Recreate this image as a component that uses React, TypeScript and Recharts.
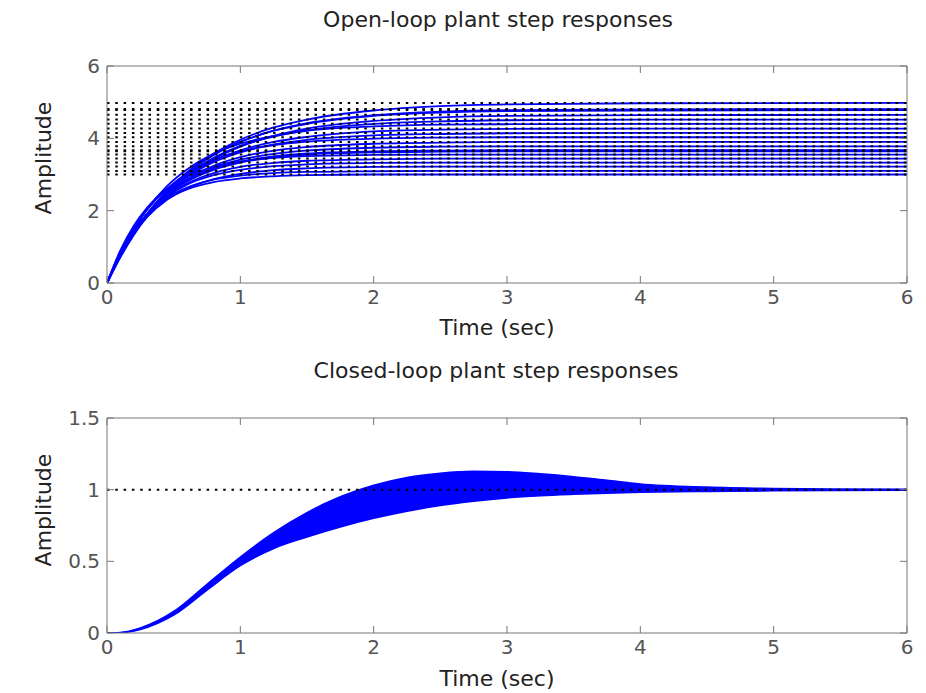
import React from 'react';
import { ComposedChart, Line, Area, XAxis, YAxis, ReferenceLine } from 'recharts';

// open-loop step responses at these times
const openTime = [0, 0.1, 0.2, 0.3, 0.45, 0.6, 0.8, 1.0, 1.25, 1.5, 2.0, 2.5, 3.0, 4.0, 6.0];

const open300 = [0, 0.85, 1.46, 1.9, 2.33, 2.59, 2.79, 2.89, 2.95, 2.98, 3.0, 3.0, 3.0, 3.0, 3.0];
const open310 = [0, 0.84, 1.46, 1.9, 2.36, 2.64, 2.86, 2.97, 3.04, 3.07, 3.09, 3.1, 3.1, 3.1, 3.1];
const open322 = [0, 0.78, 1.37, 1.82, 2.3, 2.61, 2.87, 3.02, 3.12, 3.17, 3.21, 3.22, 3.22, 3.22, 3.22];
const open333 = [0, 0.82, 1.43, 1.9, 2.39, 2.72, 2.98, 3.13, 3.23, 3.28, 3.32, 3.33, 3.33, 3.33, 3.33];
const open344 = [0, 0.81, 1.43, 1.9, 2.41, 2.75, 3.04, 3.21, 3.32, 3.38, 3.42, 3.44, 3.44, 3.44, 3.44];
const open355 = [0, 0.9, 1.58, 2.08, 2.6, 2.94, 3.21, 3.36, 3.46, 3.51, 3.54, 3.55, 3.55, 3.55, 3.55];
const open364 = [0, 0.8, 1.42, 1.9, 2.44, 2.81, 3.13, 3.33, 3.47, 3.55, 3.61, 3.63, 3.64, 3.64, 3.64];
const open367 = [0, 0.79, 1.42, 1.9, 2.45, 2.82, 3.15, 3.35, 3.5, 3.58, 3.64, 3.66, 3.67, 3.67, 3.67];
const open378 = [0, 0.78, 1.41, 1.9, 2.45, 2.84, 3.19, 3.41, 3.57, 3.66, 3.74, 3.77, 3.78, 3.78, 3.78];
const open390 = [0, 0.78, 1.4, 1.9, 2.47, 2.87, 3.24, 3.48, 3.66, 3.76, 3.85, 3.88, 3.9, 3.9, 3.9];
const open403 = [0, 0.84, 1.5, 2.02, 2.61, 3.03, 3.4, 3.64, 3.81, 3.91, 3.99, 4.02, 4.03, 4.03, 4.03];
const open415 = [0, 0.77, 1.39, 1.9, 2.49, 2.93, 3.34, 3.61, 3.83, 3.96, 4.08, 4.12, 4.14, 4.15, 4.15];
const open427 = [0, 0.76, 1.39, 1.9, 2.5, 2.95, 3.38, 3.67, 3.9, 4.04, 4.19, 4.24, 4.26, 4.27, 4.27];
const open440 = [0, 0.83, 1.5, 2.04, 2.68, 3.14, 3.57, 3.85, 4.07, 4.21, 4.33, 4.38, 4.39, 4.4, 4.4];
const open452 = [0, 0.75, 1.38, 1.9, 2.53, 3.0, 3.46, 3.79, 4.05, 4.22, 4.4, 4.47, 4.5, 4.52, 4.52];
const open465 = [0, 0.71, 1.32, 1.83, 2.45, 2.94, 3.42, 3.77, 4.07, 4.27, 4.48, 4.58, 4.62, 4.64, 4.65];
const open478 = [0, 0.75, 1.37, 1.91, 2.55, 3.05, 3.55, 3.9, 4.21, 4.4, 4.62, 4.71, 4.75, 4.77, 4.78];
const open481 = [0, 0.74, 1.36, 1.89, 2.54, 3.04, 3.54, 3.9, 4.21, 4.42, 4.64, 4.74, 4.78, 4.8, 4.81];
const open498 = [0, 0.73, 1.35, 1.89, 2.54, 3.06, 3.58, 3.96, 4.3, 4.52, 4.77, 4.89, 4.94, 4.97, 4.98];

const openSeries = [
  open300, open310, open322, open333, open344, open355, open364, open367, open378, open390,
  open403, open415, open427, open440, open452, open465, open478, open481, open498,
];

// dotted steady-state levels
const openSteady = [3.0, 3.1, 3.22, 3.33, 3.44, 3.55, 3.64, 3.67, 3.78, 3.9, 4.03, 4.15, 4.27, 4.4, 4.52, 4.65, 4.78, 4.81, 4.98];

// closed-loop family: lower and upper edge of the band
const closedTime = [0, 0.1, 0.25, 0.5, 0.75, 1.0, 1.25, 1.5, 1.75, 2.0, 2.25, 2.5, 2.75, 3.0, 3.25, 3.5, 3.75, 4.0, 4.5, 5.0, 5.5, 6.0];
const closedUpper = [0, 0.003, 0.035, 0.15, 0.34, 0.53, 0.7, 0.84, 0.95, 1.03, 1.085, 1.115, 1.128, 1.125, 1.11, 1.09, 1.065, 1.04, 1.018, 1.008, 1.004, 1.002];
const closedLower = [0, 0.002, 0.025, 0.125, 0.3, 0.47, 0.59, 0.67, 0.74, 0.8, 0.85, 0.89, 0.92, 0.943, 0.958, 0.968, 0.976, 0.982, 0.988, 0.992, 0.995, 0.997];
const closedSteady = [1];

const timeTicks = [0, 1, 2, 3, 4, 5, 6];
const openTicks = [0, 2, 4, 6];
const closedTicks = [0, 0.5, 1, 1.5];

const openData = openTime.map((t, i) => {
  const row: Record<string, number> = { t };
  openSeries.forEach((s, k) => {
    row['s' + k] = s[i];
  });
  return row;
});

const closedData = closedTime.map((t, i) => ({
  t,
  band: [closedLower[i], closedUpper[i]],
  lower: closedLower[i],
  upper: closedUpper[i],
}));

const FRAME = '#777';
const BLUE = '#0000ff';
const FONT = '"DejaVu Sans", "Liberation Sans", Arial, sans-serif';
const tickStyle = { fontFamily: FONT, fontSize: 20, fill: '#555' };
const dots = '2.5 5.8';

const textBase: React.CSSProperties = {
  position: 'absolute',
  fontFamily: FONT,
  fontSize: 22,
  lineHeight: '22px',
  color: '#222',
  whiteSpace: 'nowrap',
};

const centered = (x: number, top: number): React.CSSProperties => ({
  ...textBase,
  left: x,
  top,
  transform: 'translateX(-50%)',
});

const rotated = (x: number, y: number): React.CSSProperties => ({
  ...textBase,
  left: x,
  top: y,
  transform: 'translate(-50%, -50%) rotate(-90deg)',
});

export default function App() {
  return (
    <div style={{ position: 'absolute', left: 0, top: 0, width: 926, height: 693, background: '#fff', overflow: 'hidden' }}>
      <div style={{ position: 'absolute', left: 0, top: 0 }}>
        <ComposedChart width={926} height={345} data={openData} margin={{ top: 56, right: 9, bottom: 32, left: 47 }}>
          <XAxis dataKey="t" type="number" domain={[0, 6]} ticks={timeTicks} height={30} tickSize={-7} tickMargin={14}
            stroke={FRAME} tick={tickStyle} allowDataOverflow />
          <XAxis xAxisId="top" orientation="top" dataKey="t" type="number" domain={[0, 6]} ticks={timeTicks} height={10}
            tickSize={-7} tickFormatter={() => ''} stroke={FRAME} allowDataOverflow />
          <YAxis type="number" domain={[0, 6]} ticks={openTicks} width={60} tickSize={-7} tickMargin={14}
            stroke={FRAME} tick={tickStyle} allowDataOverflow />
          <YAxis yAxisId="right" orientation="right" type="number" domain={[0, 6]} ticks={openTicks} width={10}
            tickSize={-7} tickFormatter={() => ''} stroke={FRAME} allowDataOverflow />
          {openSeries.map((_, k) => (
            <Line key={k} type="monotone" dataKey={'s' + k} stroke={BLUE} strokeWidth={1.8} dot={false}
              activeDot={false} isAnimationActive={false} />
          ))}
          {openSteady.map((v) => (
            <ReferenceLine key={v} y={v} stroke="#000" strokeWidth={2} strokeDasharray={dots} />
          ))}
        </ComposedChart>
      </div>

      <div style={{ position: 'absolute', left: 0, top: 350 }}>
        <ComposedChart width={926} height={343} data={closedData} margin={{ top: 58, right: 9, bottom: 30, left: 47 }}>
          <XAxis dataKey="t" type="number" domain={[0, 6]} ticks={timeTicks} height={30} tickSize={-7} tickMargin={14}
            stroke={FRAME} tick={tickStyle} allowDataOverflow />
          <XAxis xAxisId="top" orientation="top" dataKey="t" type="number" domain={[0, 6]} ticks={timeTicks} height={10}
            tickSize={-7} tickFormatter={() => ''} stroke={FRAME} allowDataOverflow />
          <YAxis type="number" domain={[0, 1.5]} ticks={closedTicks} width={60} tickSize={-7} tickMargin={14}
            stroke={FRAME} tick={tickStyle} allowDataOverflow />
          <YAxis yAxisId="right" orientation="right" type="number" domain={[0, 1.5]} ticks={closedTicks} width={10}
            tickSize={-7} tickFormatter={() => ''} stroke={FRAME} allowDataOverflow />
          <Area type="monotone" dataKey="band" stroke="none" fill={BLUE} fillOpacity={1} isAnimationActive={false} activeDot={false} />
          <Line type="monotone" dataKey="upper" stroke={BLUE} strokeWidth={1.6} dot={false} activeDot={false} isAnimationActive={false} />
          <Line type="monotone" dataKey="lower" stroke={BLUE} strokeWidth={1.6} dot={false} activeDot={false} isAnimationActive={false} />
          {closedSteady.map((v) => (
            <ReferenceLine key={v} y={v} stroke="#000" strokeWidth={2} strokeDasharray={dots} />
          ))}
        </ComposedChart>
      </div>

      <div style={centered(498, 9)}>Open-loop plant step responses</div>
      <div style={centered(497, 317)}>Time (sec)</div>
      <div style={rotated(44, 158)}>Amplitude</div>

      <div style={centered(496, 360)}>Closed-loop plant step responses</div>
      <div style={centered(497, 668)}>Time (sec)</div>
      <div style={rotated(44, 510)}>Amplitude</div>
    </div>
  );
}
